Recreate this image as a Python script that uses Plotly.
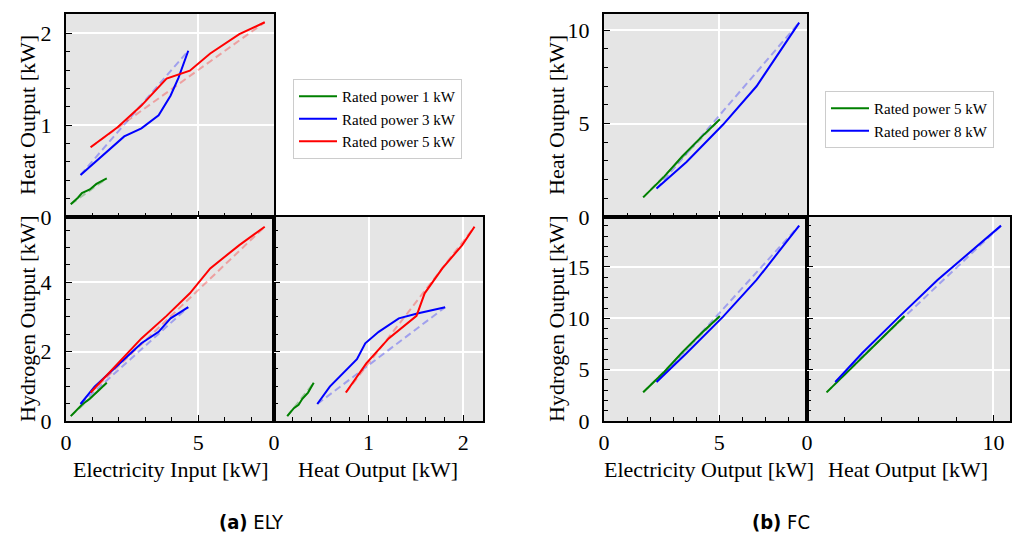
import plotly.graph_objects as go

# ---------------- data ----------------
# ELY: electricity input, heat output, hydrogen output [kW]
ely_names = ["Rated power 1 kW", "Rated power 3 kW", "Rated power 5 kW"]
ely_elec_1 = [0.18, 0.45, 0.60, 0.90, 1.15, 1.54]
ely_heat_1 = [0.14, 0.21, 0.26, 0.30, 0.36, 0.42]
ely_h2_1 = [0.14, 0.37, 0.47, 0.64, 0.82, 1.10]

ely_elec_3 = [0.55, 1.08, 2.20, 2.85, 3.50, 3.95, 4.25, 4.62]
ely_heat_3 = [0.458, 0.59, 0.877, 0.965, 1.107, 1.32, 1.515, 1.81]
ely_h2_3 = [0.49, 0.99, 1.78, 2.24, 2.57, 2.96, 3.10, 3.28]

ely_elec_5 = [0.93, 1.95, 2.85, 3.80, 4.68, 5.45, 6.55, 7.51]
ely_heat_5 = [0.76, 0.976, 1.213, 1.507, 1.593, 1.78, 1.99, 2.12]
ely_h2_5 = [0.82, 1.66, 2.38, 3.03, 3.68, 4.40, 5.07, 5.60]

# FC: electricity output, heat output, hydrogen [kW]
fc_names = ["Rated power 5 kW", "Rated power 8 kW"]
fc_elec_5 = [1.70, 2.60, 3.40, 4.20, 5.03]
fc_heat_5 = [1.05, 2.15, 3.25, 4.25, 5.23]
fc_h2_5 = [2.79, 4.75, 6.71, 8.49, 10.23]

fc_elec_8 = [2.28, 3.58, 5.17, 6.62, 8.47]
fc_heat_8 = [1.52, 2.95, 4.95, 7.00, 10.41]
fc_h2_8 = [3.80, 6.59, 10.16, 13.73, 19.02]

ely_series = [
    (ely_names[0], ely_elec_1, ely_heat_1, ely_h2_1, "#008000", "rgba(0,128,0,0.3)"),
    (ely_names[1], ely_elec_3, ely_heat_3, ely_h2_3, "#0000ff", "rgba(0,0,255,0.3)"),
    (ely_names[2], ely_elec_5, ely_heat_5, ely_h2_5, "#ff0000", "rgba(255,0,0,0.3)"),
]
fc_series = [
    (fc_names[0], fc_elec_5, fc_heat_5, fc_h2_5, "#008000", "rgba(0,128,0,0.3)"),
    (fc_names[1], fc_elec_8, fc_heat_8, fc_h2_8, "#0000ff", "rgba(0,0,255,0.3)"),
]

W, H = 1013, 540
FONT = "Liberation Serif, Times New Roman, serif"
BG = "#e5e5e5"

fig = go.Figure()


def dx(a, b):
    return [a / W, b / W]


def dy(top, bottom):
    return [1 - bottom / H, 1 - top / H]


def axis_style(domain, rng, dtick, mdtick, labels=True, anchor=None, standoff=1):
    return dict(
        domain=domain, range=rng, dtick=dtick, tick0=0,
        showline=True, linecolor="black", linewidth=2, mirror=True,
        ticks="inside", ticklen=6, tickwidth=1.3, tickcolor="black",
        showticklabels=labels, ticklabelstandoff=standoff,
        tickfont=dict(family=FONT, size=22, color="black"),
        showgrid=True, gridcolor="white", gridwidth=1.6,
        zeroline=False, anchor=anchor, automargin=False,
        minor=dict(ticks="inside", dtick=mdtick, tick0=0, ticklen=4,
                   tickwidth=1.1, tickcolor="black", showgrid=False),
    )


layout = dict(
    xaxis=axis_style(dx(66, 274), [0, 7.86], 5, 1, labels=False, anchor="y"),
    yaxis=axis_style(dy(14, 217), [0, 2.21], 1, 0.2, anchor="x", standoff=8),
    xaxis2=axis_style(dx(66, 274), [0, 7.86], 5, 1, anchor="y2"),
    yaxis2=axis_style(dy(217, 421), [0, 5.88], 2, 0.5, anchor="x2", standoff=8),
    xaxis3=axis_style(dx(274, 483), [0, 2.21], 1, 0.2, anchor="y3"),
    yaxis3=axis_style(dy(217, 421), [0, 5.88], 2, 0.5, labels=False, anchor="x3"),
    xaxis4=axis_style(dx(604, 807), [0, 8.81], 5, 1, labels=False, anchor="y4"),
    yaxis4=axis_style(dy(14, 217), [0, 10.87], 5, 1, anchor="x4", standoff=8),
    xaxis5=axis_style(dx(604, 807), [0, 8.81], 5, 1, anchor="y5"),
    yaxis5=axis_style(dy(217, 421), [0, 19.86], 5, 1, anchor="x5", standoff=8),
    xaxis6=axis_style(dx(807, 1010), [0, 10.89], 10, 2, anchor="y6"),
    yaxis6=axis_style(dy(217, 421), [0, 19.86], 5, 1, labels=False, anchor="x6"),
)


def add_panel_traces(series, xa, ya, xi, yi, legend, show):
    for name, e, h, h2, col, fcol in series:
        data = {"e": e, "h": h, "h2": h2}
        xs, ys = data[xi], data[yi]
        fig.add_trace(go.Scatter(
            x=[xs[0], xs[-1]], y=[ys[0], ys[-1]], mode="lines",
            line=dict(color=fcol, width=2, dash="7px,4px"),
            xaxis=xa, yaxis=ya, showlegend=False, hoverinfo="skip"))
    for name, e, h, h2, col, fcol in series:
        data = {"e": e, "h": h, "h2": h2}
        fig.add_trace(go.Scatter(
            x=data[xi], y=data[yi], mode="lines", name=name,
            line=dict(color=col, width=2),
            xaxis=xa, yaxis=ya, showlegend=show, legend=legend))


add_panel_traces(ely_series, "x", "y", "e", "h", "legend", True)
add_panel_traces(ely_series, "x2", "y2", "e", "h2", "legend", False)
add_panel_traces(ely_series, "x3", "y3", "h", "h2", "legend", False)
add_panel_traces(fc_series, "x4", "y4", "e", "h", "legend2", True)
add_panel_traces(fc_series, "x5", "y5", "e", "h2", "legend2", False)
add_panel_traces(fc_series, "x6", "y6", "h", "h2", "legend2", False)

ann = []


def text(x, y, s, size=22, angle=0, family=FONT):
    ann.append(dict(x=x / W, y=1 - y / H, xref="paper", yref="paper",
                    text=s, showarrow=False, textangle=angle,
                    xanchor="center", yanchor="middle",
                    font=dict(family=family, size=size, color="black")))


text(170, 469, "Electricity Input [kW]")
text(378, 469, "Heat Output [kW]")
text(709, 469, "Electricity Output [kW]")
text(908, 469, "Heat Output [kW]")
text(27, 115, "Heat Output [kW]", angle=-90)
text(27, 319, "Hydrogen Output [kW]", angle=-90)
text(556, 115, "Heat Output [kW]", angle=-90)
text(556, 319, "Hydrogen Output [kW]", angle=-90)
CAP = "Liberation Sans Narrow, DejaVu Sans Condensed, Liberation Sans, sans-serif"
text(251, 522, "<b>(a)</b> ELY", size=20, family=CAP)
text(781, 522, "<b>(b)</b> FC", size=20, family=CAP)

legend_common = dict(
    bgcolor="white", bordercolor="#cccccc", borderwidth=1,
    font=dict(family=FONT, size=15, color="black"),
    xanchor="left", yanchor="top", tracegroupgap=0, itemwidth=38,
)

fig.update_layout(
    width=W, height=H, margin=dict(l=0, r=0, t=0, b=0, autoexpand=False),
    paper_bgcolor="white", plot_bgcolor=BG,
    annotations=ann,
    legend=dict(x=293 / W, y=1 - 79 / H, **legend_common),
    legend2=dict(x=825 / W, y=1 - 91 / H, **legend_common),
    **layout,
)

fig.write_html("out.html")
